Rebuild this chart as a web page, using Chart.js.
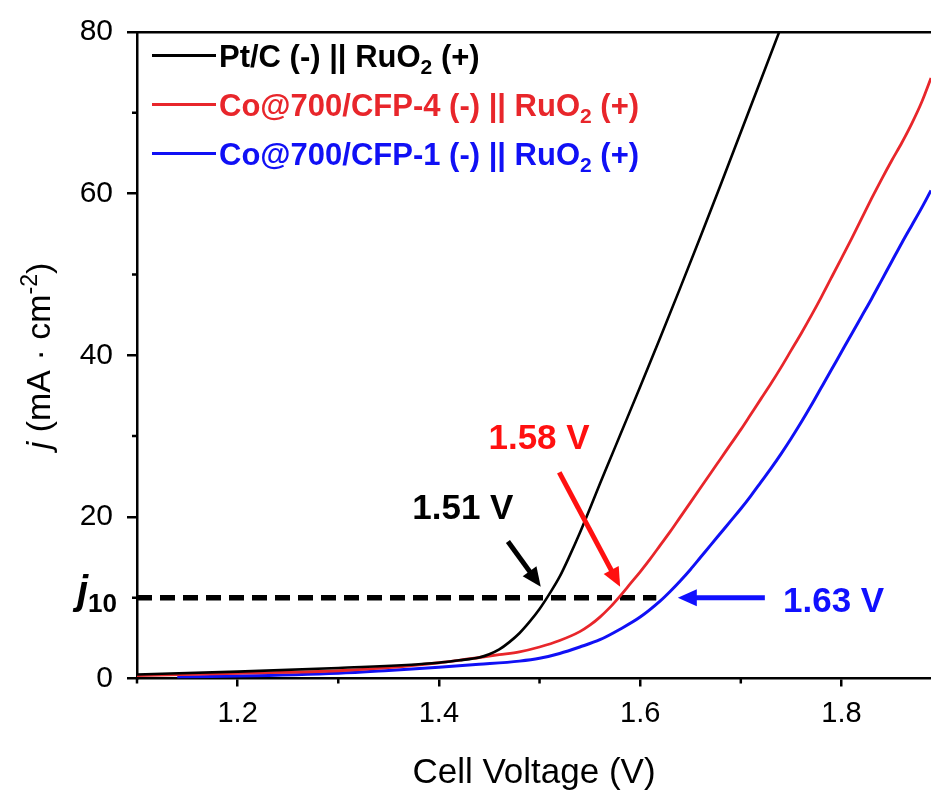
<!DOCTYPE html>
<html>
<head>
<meta charset="utf-8">
<script src="https://cdn.jsdelivr.net/npm/chart.js@4.4.1/dist/chart.umd.min.js"></script>
<style>
  html, body { margin: 0; padding: 0; background: #fff; }
  canvas { display: block; }
</style>
</head>
<body>
<canvas id="lsvChart" width="931" height="791"></canvas>
<script>
// cell voltage (V) / current density (mA cm-2)
const ptcV = [1.10, 1.20, 1.30, 1.40, 1.42, 1.44, 1.45, 1.46, 1.47, 1.48, 1.49, 1.50, 1.51, 1.52, 1.53, 1.54, 1.55, 1.56, 1.57, 1.58, 1.60, 1.62, 1.64, 1.66, 1.68, 1.70, 1.72, 1.74];
const ptcJ = [0.5, 0.85, 1.3, 1.95, 2.25, 2.6, 3.0, 3.6, 4.5, 5.6, 7.0, 8.6, 10.5, 12.6, 15.2, 18.0, 21.0, 24.1, 27.1, 30.1, 36.1, 42.2, 48.4, 54.7, 61.1, 67.6, 74.1, 80.6];

const cfp4V = [1.10, 1.20, 1.30, 1.35, 1.40, 1.42, 1.44, 1.46, 1.48, 1.50, 1.52, 1.54, 1.55, 1.56, 1.57, 1.58, 1.59, 1.60, 1.61, 1.62, 1.63, 1.64, 1.65, 1.66, 1.67, 1.68, 1.69, 1.70, 1.71, 1.72, 1.73, 1.74, 1.75, 1.76, 1.77, 1.78, 1.79, 1.80, 1.81, 1.82, 1.83, 1.84, 1.85, 1.86, 1.87, 1.88, 1.889];
const cfp4J = [0.35, 0.65, 0.96, 1.35, 1.95, 2.25, 2.6, 2.95, 3.3, 3.9, 4.7, 5.8, 6.6, 7.6, 8.8, 10.2, 11.7, 13.2, 14.8, 16.5, 18.2, 20.0, 21.8, 23.6, 25.4, 27.2, 29.0, 30.8, 32.7, 34.6, 36.5, 38.5, 40.6, 42.7, 44.9, 47.2, 49.6, 52.0, 54.4, 56.9, 59.4, 61.8, 64.1, 66.3, 68.7, 71.4, 74.3];

const cfp1V = [1.14, 1.20, 1.30, 1.35, 1.40, 1.44, 1.48, 1.50, 1.52, 1.54, 1.56, 1.58, 1.60, 1.62, 1.63, 1.64, 1.65, 1.66, 1.67, 1.68, 1.69, 1.70, 1.71, 1.72, 1.73, 1.74, 1.75, 1.76, 1.77, 1.78, 1.79, 1.80, 1.81, 1.82, 1.83, 1.84, 1.85, 1.86, 1.87, 1.88, 1.889];
const cfp1J = [0.2, 0.3, 0.65, 1.0, 1.4, 1.75, 2.15, 2.5, 3.1, 3.9, 4.8, 6.1, 7.6, 9.6, 10.8, 12.1, 13.5, 15.0, 16.5, 18.0, 19.5, 21.0, 22.6, 24.3, 26.0, 27.8, 29.7, 31.7, 33.8, 36.0, 38.2, 40.4, 42.6, 44.8, 47.0, 49.3, 51.6, 53.9, 56.1, 58.3, 60.4];

// j10 reference line
const j10V = [1.10, 1.616];
const j10J = [10, 10];

const seriesNames = ['Pt/C (-) || RuO₂ (+)', 'Co@700/CFP-4 (-) || RuO₂ (+)', 'Co@700/CFP-1 (-) || RuO₂ (+)'];
const seriesColors = ['#000000', '#e8262b', '#1010f5'];

const xTicks = [1.2, 1.4, 1.6, 1.8];
const xMinor = [1.1, 1.3, 1.5, 1.7];
const yTicks = [0, 20, 40, 60, 80];
const yMinor = [10, 30, 50, 70];

// onset labels with their arrows (data units)
const notes = [
  { text: '1.51 V', color: '#000000', at: [1.4238, 21.0], from: [1.4686, 16.95], to: [1.5012, 11.36] },
  { text: '1.58 V', color: '#ff1010', at: [1.4995, 29.7], from: [1.5196, 25.5], to: [1.5801, 11.36] },
  { text: '1.63 V', color: '#1010ff', at: [1.7922, 9.57], from: [1.7239, 10], to: [1.6374, 10] }
];

const FONT = "'Liberation Sans', Arial, Helvetica, sans-serif";

function pts(vs, js) {
  return vs.map((v, i) => ({ x: v, y: js[i] }));
}

function drawArrow(ctx, x1, y1, x2, y2, color) {
  const head = 19, half = 8.5;
  const a = Math.atan2(y2 - y1, x2 - x1);
  const bx = x2 - head * Math.cos(a), by = y2 - head * Math.sin(a);
  ctx.strokeStyle = color;
  ctx.fillStyle = color;
  ctx.lineWidth = 5;
  ctx.lineCap = 'butt';
  ctx.beginPath();
  ctx.moveTo(x1, y1);
  ctx.lineTo(bx + Math.cos(a), by + Math.sin(a));
  ctx.stroke();
  ctx.beginPath();
  ctx.moveTo(x2, y2);
  ctx.lineTo(bx + half * Math.sin(a), by - half * Math.cos(a));
  ctx.lineTo(bx - half * Math.sin(a), by + half * Math.cos(a));
  ctx.closePath();
  ctx.fill();
}

// draws a run of text pieces [text, font, dy] starting at x
function drawRuns(ctx, runs, x, y, color) {
  ctx.fillStyle = color;
  ctx.textAlign = 'left';
  ctx.textBaseline = 'alphabetic';
  runs.forEach(r => {
    ctx.font = r[1];
    ctx.fillText(r[0], x, y + r[2]);
    x += ctx.measureText(r[0]).width;
  });
}

function runsWidth(ctx, runs) {
  let w = 0;
  runs.forEach(r => { ctx.font = r[1]; w += ctx.measureText(r[0]).width; });
  return w;
}

const extras = {
  id: 'extras',
  afterDraw(chart) {
    const { ctx, chartArea, scales: { x, y } } = chart;
    ctx.save();

    // minor ticks
    ctx.strokeStyle = '#000';
    ctx.lineWidth = 2.5;
    ctx.beginPath();
    xMinor.forEach(v => {
      const px = x.getPixelForValue(v);
      ctx.moveTo(px, chartArea.bottom);
      ctx.lineTo(px, chartArea.bottom + 5);
    });
    yMinor.forEach(v => {
      const py = y.getPixelForValue(v);
      ctx.moveTo(chartArea.left, py);
      ctx.lineTo(chartArea.left - 5, py);
    });
    ctx.stroke();

    // legend
    chart.data.datasets.slice(0, 3).forEach((ds, i) => {
      const ly = 55.5 + i * 49;
      ctx.strokeStyle = ds.borderColor;
      ctx.lineWidth = 3;
      ctx.beginPath();
      ctx.moveTo(152, ly);
      ctx.lineTo(216, ly);
      ctx.stroke();
      const parts = ds.label.split('₂');
      drawRuns(ctx, [
        [parts[0], 'bold 31px ' + FONT, 0],
        ['2', 'bold 21px ' + FONT, 7],
        [parts[1], 'bold 31px ' + FONT, 0]
      ], 219, ly + 11, ds.borderColor);
    });

    // onset annotations
    notes.forEach(n => {
      drawArrow(ctx, x.getPixelForValue(n.from[0]), y.getPixelForValue(n.from[1]),
        x.getPixelForValue(n.to[0]), y.getPixelForValue(n.to[1]), n.color);
      ctx.font = 'bold 35px ' + FONT;
      ctx.fillStyle = n.color;
      ctx.textAlign = 'center';
      ctx.textBaseline = 'middle';
      ctx.fillText(n.text, x.getPixelForValue(n.at[0]), y.getPixelForValue(n.at[1]) + 1);
    });

    // j10 label
    const jy = y.getPixelForValue(10);
    drawRuns(ctx, [
      ['j', 'italic bold 40px ' + FONT, 0],
      ['10', 'bold 26px ' + FONT, 8]
    ], 77, jy + 6, '#000');

    // y axis title
    const yRuns = [
      ['j', 'italic 34px ' + FONT, 0],
      [' (mA · cm', '34px ' + FONT, 0],
      ['-2', '23px ' + FONT, -13],
      [')', '34px ' + FONT, 0]
    ];
    ctx.translate(50, 356);
    ctx.rotate(-Math.PI / 2);
    drawRuns(ctx, yRuns, -runsWidth(ctx, yRuns) / 2, 0, '#000');

    ctx.restore();
  }
};

new Chart(document.getElementById('lsvChart'), {
  type: 'scatter',
  data: {
    datasets: [
      { label: seriesNames[0], data: pts(ptcV, ptcJ), borderColor: seriesColors[0], borderWidth: 2.6 },
      { label: seriesNames[1], data: pts(cfp4V, cfp4J), borderColor: seriesColors[1], borderWidth: 2.8 },
      { label: seriesNames[2], data: pts(cfp1V, cfp1J), borderColor: seriesColors[2], borderWidth: 3 },
      { label: 'j10', data: pts(j10V, j10J), borderColor: '#000', borderWidth: 5.5, borderDash: [15, 8], cubicInterpolationMode: 'default', tension: 0 }
    ].map(ds => Object.assign({ showLine: true, pointRadius: 0, fill: false, cubicInterpolationMode: 'monotone', borderCapStyle: 'butt' }, ds))
  },
  options: {
    responsive: false,
    animation: false,
    layout: { padding: 0 },
    plugins: {
      legend: { display: false },
      tooltip: { enabled: false }
    },
    scales: {
      x: {
        type: 'linear',
        position: 'bottom',
        min: 1.1,
        max: 1.889,
        afterBuildTicks: s => { s.ticks = xTicks.map(v => ({ value: v })); },
        afterFit: s => { s.height = 112.5; },
        grid: { display: true, drawOnChartArea: false, drawTicks: true, tickLength: 8, color: '#000', lineWidth: 2.5 },
        border: { display: true, color: '#000', width: 2.5 },
        ticks: { color: '#000', padding: 10, font: { family: FONT, size: 29 }, callback: v => v.toFixed(1) },
        title: { display: true, text: 'Cell Voltage (V)', color: '#000', font: { family: FONT, size: 35, lineHeight: 1 }, padding: 0 }
      },
      xTop: {
        type: 'linear',
        position: 'top',
        min: 1.1,
        max: 1.889,
        afterFit: s => { s.height = 27; },
        grid: { display: false },
        border: { display: true, color: '#000', width: 2.5 },
        ticks: { display: false }
      },
      y: {
        type: 'linear',
        min: 0,
        max: 80,
        afterBuildTicks: s => { s.ticks = yTicks.map(v => ({ value: v })); },
        afterFit: s => { s.width = 137; },
        grid: { display: true, drawOnChartArea: false, drawTicks: true, tickLength: 10, color: '#000', lineWidth: 2.5 },
        border: { display: true, color: '#000', width: 2.5 },
        ticks: { color: '#000', padding: 14, font: { family: FONT, size: 30 } }
      }
    }
  },
  plugins: [extras]
});
</script>
</body>
</html>
